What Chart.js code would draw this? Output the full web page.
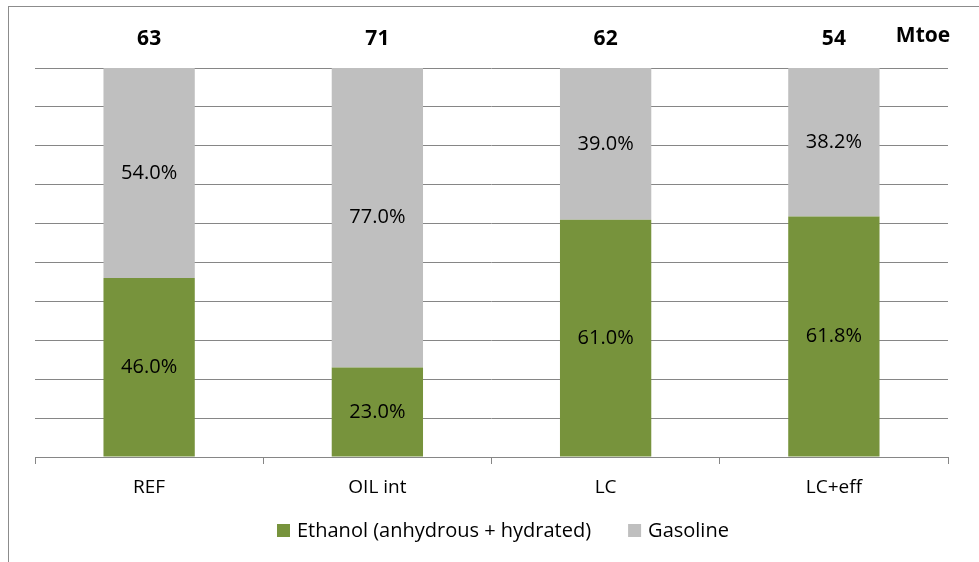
<!DOCTYPE html>
<html>
<head>
<meta charset="utf-8">
<script src="https://cdn.jsdelivr.net/npm/chart.js@4/dist/chart.umd.min.js"></script>
<style>
  html, body { margin: 0; padding: 0; background: #fff; }
  canvas { display: block; }
</style>
</head>
<body>
<canvas id="chart" width="979" height="562"></canvas>
<script>
// shares of each fuel in the total, percent
const categories = ["REF", "OIL int", "LC", "LC+eff"];
const ethanol = [46.0, 23.0, 61.0, 61.8];
const gasoline = [54.0, 77.0, 39.0, 38.2];
// total demand above each bar, Mtoe
const totals = [63, 71, 62, 54];
const unitLabel = "Mtoe";

const FONT = '"Open Sans", "Liberation Sans", sans-serif';
const GRID = "#868686";

Chart.defaults.font.family = FONT;
Chart.defaults.color = "#000";

// outer frame, clipped at right and bottom like the original export
const framePlugin = {
  id: "frame",
  beforeDraw(chart) {
    const ctx = chart.ctx;
    ctx.save();
    ctx.strokeStyle = "#8c8c8c";
    ctx.lineWidth = 1;
    ctx.strokeRect(8.5, 6.5, 2000, 2000);
    ctx.restore();
  },
};

// percent labels inside the segments + totals on top
const labelPlugin = {
  id: "labels",
  afterDatasetsDraw(chart) {
    const ctx = chart.ctx;
    const xScale = chart.scales.x;
    ctx.save();
    ctx.textAlign = "center";
    ctx.textBaseline = "middle";
    ctx.fillStyle = "#000";
    ctx.font = "20px " + FONT;
    chart.data.datasets.forEach((ds, di) => {
      chart.getDatasetMeta(di).data.forEach((bar, i) => {
        const y = (bar.y + bar.base) / 2;
        ctx.fillText(ds.data[i].toFixed(1) + "%", bar.x, y);
      });
    });

    ctx.font = "bold 21px " + FONT;
    const top = chart.chartArea.top;
    totals.forEach((t, i) => {
      ctx.fillText(String(t), xScale.getPixelForValue(i), top - 29);
    });
    ctx.fillText(unitLabel, chart.chartArea.right - 25, top - 32);
    ctx.restore();
  },
};

// legend drawn by hand to get the wide gap between the two entries
const legendPlugin = {
  id: "customLegend",
  afterDraw(chart) {
    const ctx = chart.ctx;
    const box = 13;
    const y = 530;
    ctx.save();
    ctx.font = "20px " + FONT;
    ctx.textBaseline = "middle";
    ctx.textAlign = "left";
    const items = chart.data.datasets.map((ds) => ({
      text: ds.label,
      color: ds.backgroundColor,
      w: ctx.measureText(ds.label).width,
    }));
    const gapBox = 7;
    const gapItem = 37;
    let total = 0;
    items.forEach((it, i) => {
      total += box + gapBox + it.w + (i < items.length - 1 ? gapItem : 0);
    });
    let x = Math.round(503 - total / 2);
    items.forEach((it) => {
      ctx.fillStyle = it.color;
      ctx.fillRect(x, y - 6, box, box);
      ctx.fillStyle = "#000";
      ctx.fillText(it.text, x + box + gapBox, y + 1);
      x += box + gapBox + it.w + gapItem;
    });
    ctx.restore();
  },
};

new Chart(document.getElementById("chart"), {
  type: "bar",
  data: {
    labels: categories,
    datasets: [
      {
        label: "Ethanol (anhydrous + hydrated)",
        data: ethanol,
        backgroundColor: "#77933C",
      },
      {
        label: "Gasoline",
        data: gasoline,
        backgroundColor: "#BFBFBF",
      },
    ],
  },
  options: {
    responsive: false,
    animation: false,
    devicePixelRatio: 1,
    layout: {
      padding: { left: 35, right: 31, top: 68, bottom: 54 },
    },
    datasets: {
      bar: { barPercentage: 1, categoryPercentage: 0.4 },
    },
    scales: {
      x: {
        stacked: true,
        grid: {
          offset: true,
          drawOnChartArea: false,
          color: GRID,
          tickLength: 7,
        },
        border: { color: GRID },
        ticks: {
          padding: 12,
          font: { size: 19 },
          color: "#000",
        },
        afterFit(s) {
          s.height = 51;
        },
      },
      y: {
        stacked: true,
        min: 0,
        max: 100,
        ticks: { stepSize: 10, display: false },
        grid: { color: GRID, drawTicks: false },
        border: { display: false },
        afterFit(s) {
          s.width = 0;
        },
      },
    },
    plugins: {
      legend: { display: false },
      tooltip: { enabled: false },
    },
  },
  plugins: [framePlugin, labelPlugin, legendPlugin],
});
</script>
</body>
</html>
